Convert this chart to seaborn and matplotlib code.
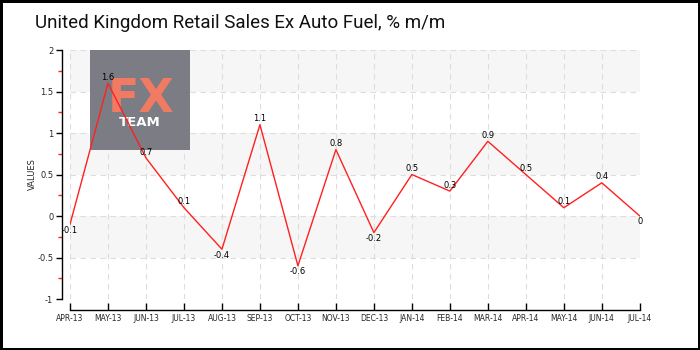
import matplotlib
matplotlib.use("Agg")
import matplotlib.pyplot as plt
import seaborn as sns
import pandas as pd
import numpy as np
from matplotlib.patches import Rectangle

months = ["APR-13", "MAY-13", "JUN-13", "JUL-13", "AUG-13", "SEP-13", "OCT-13", "NOV-13",
          "DEC-13", "JAN-14", "FEB-14", "MAR-14", "APR-14", "MAY-14", "JUN-14", "JUL-14"]
values = [-0.1, 1.6, 0.7, 0.1, -0.4, 1.1, -0.6, 0.8, -0.2, 0.5, 0.3, 0.9, 0.5, 0.1, 0.4, 0]
y_ticks = [-1, -0.5, 0, 0.5, 1, 1.5, 2]
y_tick_labels = ["-1", "-0.5", "0", "0.5", "1", "1.5", "2"]

df = pd.DataFrame({"idx": np.arange(len(months)), "value": values})

sns.set_theme(style="white")
plt.rcParams["font.family"] = ["DejaVu Sans"]

fig = plt.figure(figsize=(7, 3.5), dpi=100)
fig.patch.set_edgecolor("black")
fig.patch.set_linewidth(2.5)
ax = fig.add_axes([0.1, 0.1457, 0.814, 0.7114])

# alternating background bands
for lo, hi in [(1.5, 2), (0.5, 1), (-0.5, 0)]:
    ax.axhspan(lo, hi, color="#f6f6f6", zorder=0, lw=0)

sns.lineplot(data=df, x="idx", y="value", color="#ff2020", linewidth=1, ax=ax, zorder=3)

for i, v in zip(df["idx"], df["value"]):
    if v > 0:
        ax.annotate(f"{v:g}", (i, v), xytext=(0, 1), textcoords="offset points",
                    ha="center", va="bottom", fontsize=6, color="black", zorder=4)
    else:
        ax.annotate(f"{v:g}", (i, v), xytext=(0, -1), textcoords="offset points",
                    ha="center", va="top", fontsize=6, color="black", zorder=4)

ax.set_xlim(0, len(months) - 1)
ax.set_ylim(-1, 2)
ax.set_xticks(df["idx"])
ax.set_xticklabels(months)
ax.set_yticks(y_ticks)
ax.set_yticklabels(y_tick_labels)
ax.set_yticks(np.arange(-0.75, 2, 0.5), minor=True)
ax.tick_params(axis="y", which="minor", length=3, color="#ff2020", width=1, left=True)
ax.tick_params(axis="y", which="major", length=4, color="black", width=1, left=True,
               pad=2, labelsize=6)
ax.tick_params(axis="x", which="major", length=5, color="black", width=1, bottom=True,
               direction="in", pad=3, labelsize=5.5)
ax.grid(True, which="major", color="#dddddd", linestyle=(0, (5, 4)), linewidth=0.8, zorder=1)
ax.set_xlabel("")
ax.set_ylabel("VALUES", fontsize=6, labelpad=0)

sns.despine(ax=ax, offset={"left": 6, "bottom": 8})
for side in ["left", "bottom"]:
    ax.spines[side].set_color("black")
    ax.spines[side].set_linewidth(1)

# watermark box
ax.add_patch(Rectangle((0.035, 0.598), 0.1755, 0.402, transform=ax.transAxes,
                       facecolor="#7b7c84", edgecolor="none", zorder=2))
ax.text(0.1246, 0.75, "FX", transform=ax.transAxes, ha="center", va="baseline",
        fontsize=33, fontweight="semibold", color="#f07a62", zorder=2)
ax.text(0.1228, 0.695, "TEAM", transform=ax.transAxes, ha="center", va="baseline",
        fontsize=9.5, fontweight="bold", color="white", zorder=2)

fig.text(0.05, 0.935, "United Kingdom Retail Sales Ex Auto Fuel, % m/m",
         fontsize=13.5, ha="left", va="center", color="#111111",
         family=["Roboto", "DejaVu Sans"])

fig.savefig("out.png", dpi=100, edgecolor=fig.get_edgecolor())
